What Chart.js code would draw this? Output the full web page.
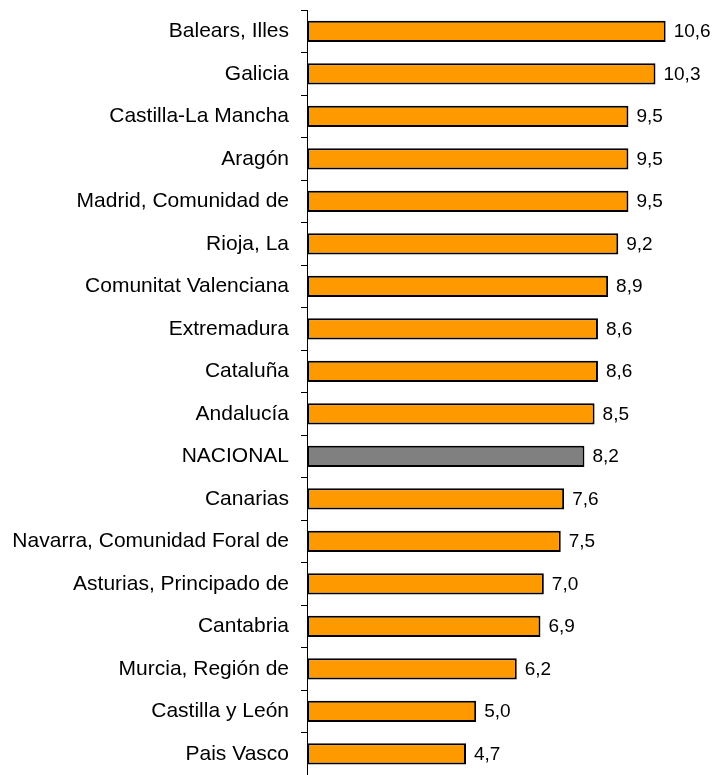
<!DOCTYPE html>
<html lang="es">
<head>
  <meta charset="UTF-8">
  <title>Tasa por comunidad autónoma</title>
  <script src="https://cdn.jsdelivr.net/npm/chart.js"></script>
  <style>
    body { margin: 0; background: #fff; }
    #grafico { display: block; }
  </style>
</head>
<body>
<canvas id="grafico" width="717" height="775"></canvas>

<script>
  // datos
  const comunidades = [
    'Balears, Illes', 'Galicia', 'Castilla-La Mancha', 'Aragón', 'Madrid, Comunidad de',
    'Rioja, La', 'Comunitat Valenciana', 'Extremadura', 'Cataluña', 'Andalucía',
    'NACIONAL', 'Canarias', 'Navarra, Comunidad Foral de', 'Asturias, Principado de',
    'Cantabria', 'Murcia, Región de', 'Castilla y León', 'Pais Vasco'
  ];
  const valores = [10.6, 10.3, 9.5, 9.5, 9.5, 9.2, 8.9, 8.6, 8.6, 8.5, 8.2, 7.6, 7.5, 7.0, 6.9, 6.2, 5.0, 4.7];
  const escalaMax = 12;

  const colorBarra = '#FF9900';
  const colorNacional = '#808080';
  const colores = comunidades.map(c => c === 'NACIONAL' ? colorNacional : colorBarra);

  const familia = "'Liberation Sans', Arial, sans-serif";
  const fuenteEje = { family: familia, size: 21 };
  const fuenteValor = { family: familia, size: 19 };

  // etiquetas de valor al final de cada barra
  const etiquetasValor = {
    id: 'etiquetasValor',
    afterDatasetsDraw(chart) {
      const ctx = chart.ctx;
      const meta = chart.getDatasetMeta(0);
      ctx.save();
      ctx.font = `${fuenteValor.size}px ${fuenteValor.family}`;
      ctx.fillStyle = '#000';
      ctx.textAlign = 'left';
      ctx.textBaseline = 'middle';
      meta.data.forEach((bar, i) => {
        const txt = valores[i].toFixed(1).replace('.', ',');
        ctx.fillText(txt, bar.x + 8, bar.y + 1);
      });
      ctx.restore();
    }
  };

  const ctx = document.getElementById('grafico').getContext('2d');
  window.miGrafico = new Chart(ctx, {
    type: 'bar',
    data: {
      labels: comunidades,
      datasets: [{
        data: valores,
        backgroundColor: colores,
        borderColor: '#000',
        borderWidth: 2,
        borderSkipped: false,
        barPercentage: 0.5,
        categoryPercentage: 1
      }]
    },
    options: {
      indexAxis: 'y',
      responsive: false,
      animation: false,
      layout: { padding: { top: 10, right: 4, bottom: 0, left: 0 } },
      plugins: {
        legend: { display: false },
        tooltip: { enabled: false }
      },
      scales: {
        x: {
          display: false,
          min: 0,
          max: escalaMax
        },
        y: {
          afterFit: (scale) => {
            scale.width = 307;
            scale.paddingTop = 0;
            scale.paddingBottom = 0;
          },
          border: { display: true, color: '#000', width: 1 },
          grid: {
            offset: true,
            drawOnChartArea: false,
            drawTicks: true,
            tickLength: 6,
            color: '#000'
          },
          ticks: {
            color: '#000',
            padding: 12,
            autoSkip: false,
            font: fuenteEje
          }
        }
      }
    },
    plugins: [etiquetasValor]
  });
</script>
</body>
</html>
